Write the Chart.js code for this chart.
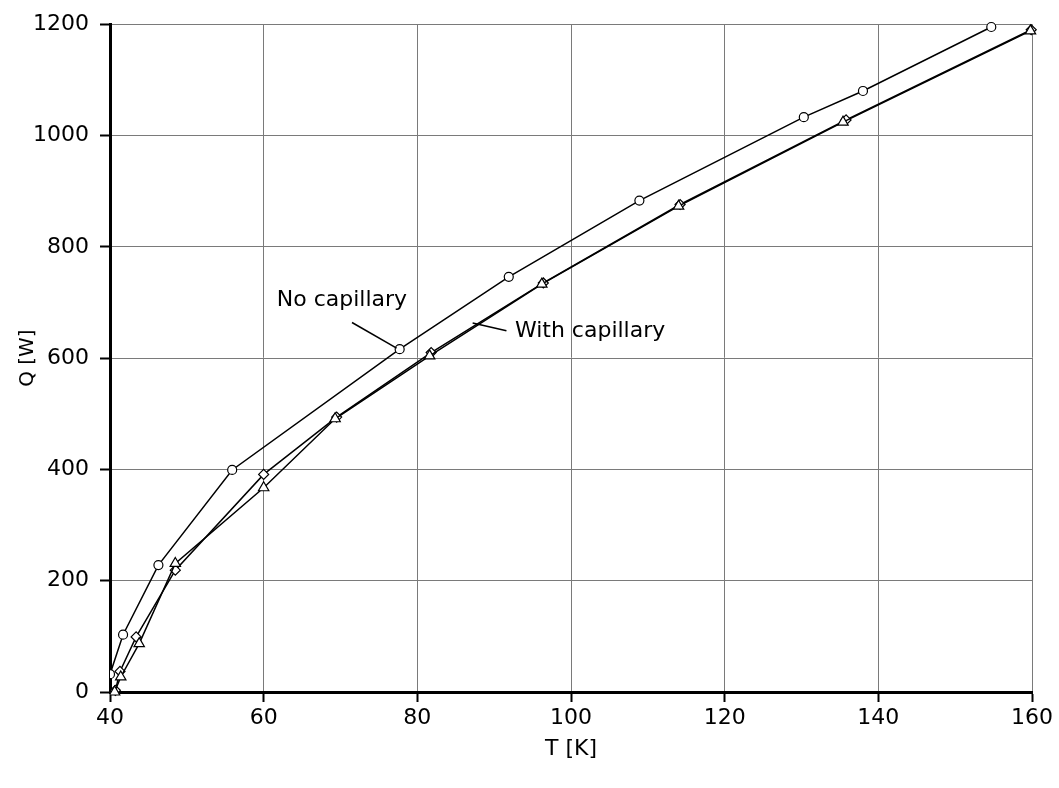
<!DOCTYPE html>
<html>
<head>
  <meta charset="utf-8" />
  <title>Q vs T</title>
  <style>
    body { margin: 0; background: #fff; }
  </style>
</head>
<body>
  <canvas id="stage" width="1059" height="788"></canvas>

  <script src="https://cdn.jsdelivr.net/npm/chart.js@4.4.0/dist/chart.umd.min.js"></script>
  <script>
    // No capillary (circles)
    const noCapT = [40.0, 41.7, 46.3, 55.9, 77.7, 91.9, 108.9, 130.3, 138.0, 154.7];
    const noCapQ = [32, 103, 228, 399, 616, 746, 883, 1033, 1080, 1195];

    // With capillary (diamonds)
    const capAT = [40.7, 41.3, 43.4, 48.5, 60.0, 69.5, 81.8, 96.4, 114.2, 135.8, 159.9];
    const capAQ = [3, 37, 99, 219, 391, 494, 610, 735, 876, 1028, 1190];

    // With capillary (triangles)
    const capBT = [40.6, 41.4, 43.8, 48.5, 60.0, 69.3, 81.6, 96.2, 114.0, 135.4, 159.8];
    const capBQ = [0, 27, 87, 231, 367, 491, 604, 733, 873, 1024, 1188];

    // labels with leader lines (data coords)
    const notes = [
      { text: 'No capillary', t: 61.7, q: 703, from: [71.5, 664], to: [77.3, 618] },
      { text: 'With capillary', t: 92.7, q: 649, from: [91.6, 649], to: [87.2, 663] }
    ];

    const FONT = '"DejaVu Sans", Verdana, sans-serif';

    function pts(xs, ys) {
      return xs.map((x, i) => ({ x: x, y: ys[i] }));
    }

    const notePlugin = {
      id: 'notes',
      afterDatasetsDraw(chart) {
        const ctx = chart.ctx;
        const xs = chart.scales.x, ys = chart.scales.y;
        ctx.save();
        ctx.strokeStyle = '#000';
        ctx.lineWidth = 1.5;
        ctx.fillStyle = '#000';
        ctx.font = '22px ' + FONT;
        ctx.textBaseline = 'middle';
        notes.forEach(n => {
          ctx.beginPath();
          ctx.moveTo(xs.getPixelForValue(n.from[0]), ys.getPixelForValue(n.from[1]));
          ctx.lineTo(xs.getPixelForValue(n.to[0]), ys.getPixelForValue(n.to[1]));
          ctx.stroke();
          ctx.fillText(n.text, xs.getPixelForValue(n.t), ys.getPixelForValue(n.q));
        });
        ctx.restore();
      }
    };

    const common = {
      showLine: true,
      borderColor: '#000',
      borderWidth: 1.5,
      pointBorderColor: '#000',
      pointBackgroundColor: '#fff',
      pointBorderWidth: 1.2,
      pointRadius: 4.5,
      tension: 0,
      clip: { left: 0, top: 10, right: 10, bottom: 10 }
    };

    new Chart(document.getElementById('stage'), {
      type: 'scatter',
      data: {
        datasets: [
          Object.assign({}, common, { label: 'With capillary B', data: pts(capBT, capBQ), pointStyle: 'triangle', pointRadius: 6 }),
          Object.assign({}, common, { label: 'With capillary A', data: pts(capAT, capAQ), pointStyle: 'rectRot', pointRadius: 5 }),
          Object.assign({}, common, { label: 'No capillary', data: pts(noCapT, noCapQ), pointStyle: 'circle' })
        ]
      },
      options: {
        responsive: false,
        animation: false,
        layout: { padding: { top: 23, right: 27, left: 0, bottom: 0 } },
        plugins: {
          legend: { display: false },
          tooltip: { enabled: false }
        },
        scales: {
          x: {
            type: 'linear',
            min: 40,
            max: 160,
            afterFit: s => { s.height = 96; },
            ticks: {
              stepSize: 20,
              color: '#000',
              font: { family: FONT, size: 22 },
              padding: 3,
              callback: v => String(v)
            },
            grid: { color: '#7a7a7a', lineWidth: 1, tickColor: '#000', tickLength: 10, tickWidth: 2 },
            border: { color: '#000', width: 3 },
            title: {
              display: true,
              text: 'T [K]',
              color: '#000',
              font: { family: FONT, size: 22 },
              padding: { top: 4, bottom: 26 }
            }
          },
          y: {
            type: 'linear',
            min: 0,
            max: 1200,
            afterFit: s => { s.width = 110; },
            ticks: {
              stepSize: 200,
              color: '#000',
              font: { family: FONT, size: 22 },
              padding: 11,
              callback: v => String(v)
            },
            grid: { color: '#7a7a7a', lineWidth: 1, tickColor: '#000', tickLength: 10, tickWidth: 2 },
            border: { color: '#000', width: 3 },
            title: {
              display: true,
              text: 'Q [W]',
              color: '#000',
              font: { family: FONT, size: 20 },
              padding: { top: 16, bottom: 0 }
            }
          }
        }
      },
      plugins: [notePlugin]
    });
  </script>
</body>
</html>
